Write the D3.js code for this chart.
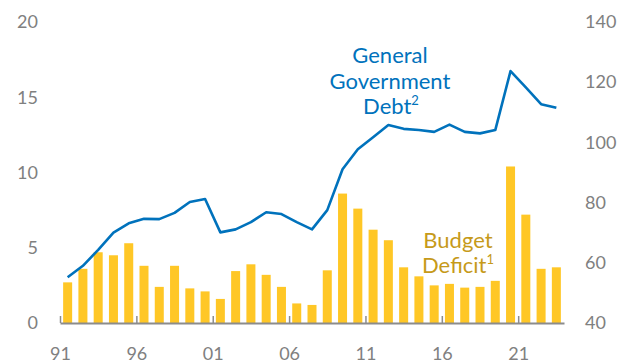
<!DOCTYPE html>
<html>
<head>
<meta charset="utf-8">
<script src="https://cdn.jsdelivr.net/npm/d3@7"></script>
<style>
	body { margin: 0; background: #fff; }
	svg { display: block; }
	text { font-family: Lato, "Open Sans", sans-serif; }
</style>
</head>
<body>
<div id="chart"></div>
<script>
// years 1991..2023
var years = d3.range(1991, 2024)
var xTickYears = [1991, 1996, 2001, 2006, 2011, 2016, 2021]

// Budget deficit, % (left axis)
var deficit = [2.7, 3.6, 4.7, 4.5, 5.3, 3.8, 2.4, 3.8, 2.3, 2.1,
	1.6, 3.45, 3.9, 3.2, 2.4, 1.3, 1.2, 3.5, 8.6, 7.6,
	6.2, 5.5, 3.7, 3.1, 2.5, 2.6, 2.35, 2.4, 2.8, 10.4,
	7.2, 3.6, 3.7]

// General government debt, % (right axis)
var debt = [55.2, 59.0, 64.3, 70.0, 73.1, 74.6, 74.5, 76.6, 80.2, 81.2,
	70.1, 71.1, 73.5, 76.8, 76.2, 73.5, 71.1, 77.5, 91.1, 97.7,
	101.7, 105.8, 104.5, 104.1, 103.5, 105.9, 103.5, 103.0, 104.1, 123.7,
	118.3, 112.7, 111.5]

var leftTicks = [0, 5, 10, 15, 20]
var rightTicks = [40, 60, 80, 100, 120, 140]

run()

function run() {
	var w = 628
	var h = 364
	var bounds = { left: 60, right: 564, top: 22, bottom: 323 }

	var barColor = "#FFC726"
	var lineColor = "#0072BC"
	var labelGold = "#C69A1A"
	var grey = "#808080"

	var svg = d3.select("#chart").append("svg")
		.attr("width", w)
		.attr("height", h)

	var x = d3.scaleBand()
		.domain(years)
		.range([bounds.left, bounds.right])
		.paddingInner(0.41)
		.paddingOuter(0.205)

	var band = (bounds.right - bounds.left) / years.length

	var yL = d3.scaleLinear().domain([0, 20]).range([bounds.bottom, bounds.top])
	var yR = d3.scaleLinear().domain([40, 140]).range([bounds.bottom, bounds.top])

	// bars
	svg.selectAll("rect.bar")
		.data(deficit)
		.enter()
		.append("rect")
		.attr("class", "bar")
		.attr("x", (d, i) => x(years[i]))
		.attr("y", d => yL(d))
		.attr("width", x.bandwidth())
		.attr("height", d => yL(0) - yL(d))
		.attr("fill", barColor)

	// debt line
	var line = d3.line()
		.x((d, i) => x(years[i]) + x.bandwidth() / 2)
		.y(d => yR(d))

	svg.append("path")
		.datum(debt)
		.attr("d", line)
		.attr("fill", "none")
		.attr("stroke", lineColor)
		.attr("stroke-width", 2.6)
		.attr("stroke-linejoin", "round")

	// x axis: ticks sit at band starts
	var tickX = yr => bounds.left + (yr - years[0]) * band
	var xAxis = d3.axisBottom(d3.scaleLinear().domain([years[0], years[0] + years.length]).range([bounds.left, bounds.right]))
		.tickValues(xTickYears)
		.tickSize(0)
		.tickPadding(0)
		.tickFormat(d => String(d).slice(2))

	var gx = svg.append("g")
		.attr("transform", "translate(0," + bounds.bottom + ")")
		.call(xAxis)
	gx.select(".domain").attr("stroke", "#8c8c8c").attr("stroke-width", 2)
	gx.selectAll(".tick line")
		.attr("y2", -7)
		.attr("stroke", "#8c8c8c")
		.attr("stroke-width", 1.5)
	gx.selectAll(".tick text")
		.attr("y", 37)
		.attr("dy", 0)
		.attr("fill", grey)
		.style("font-size", "18px")

	// left axis
	var gl = svg.append("g")
		.attr("transform", "translate(38,0)")
		.call(d3.axisLeft(yL).tickValues(leftTicks).tickSize(0).tickPadding(0))
	gl.select(".domain").remove()
	gl.selectAll(".tick text")
		.attr("fill", grey)
		.style("font-size", "18px")

	// right axis
	var gr = svg.append("g")
		.attr("transform", "translate(585,0)")
		.call(d3.axisRight(yR).tickValues(rightTicks).tickSize(0).tickPadding(0))
	gr.select(".domain").remove()
	gr.selectAll(".tick text")
		.attr("fill", grey)
		.style("font-size", "18px")

	// series labels
	var debtLabel = svg.append("text")
		.attr("text-anchor", "middle")
		.attr("fill", lineColor)
		.style("font-size", "22px")
	debtLabel.append("tspan").attr("x", 390).attr("y", 63).text("General")
	debtLabel.append("tspan").attr("x", 390).attr("y", 88.5).text("Government")
	var debtLast = debtLabel.append("tspan").attr("x", 391).attr("y", 114).text("Debt")
	debtLabel.append("tspan").attr("dy", -9).style("font-size", "13px").text("2")

	var defLabel = svg.append("text")
		.attr("text-anchor", "middle")
		.attr("fill", labelGold)
		.style("font-size", "22px")
	defLabel.append("tspan").attr("x", 458).attr("y", 247.5).text("Budget")
	defLabel.append("tspan").attr("x", 458).attr("y", 273).text("Deficit")
	defLabel.append("tspan").attr("dy", -9).style("font-size", "13px").text("1")
}
</script>
</body>
</html>
